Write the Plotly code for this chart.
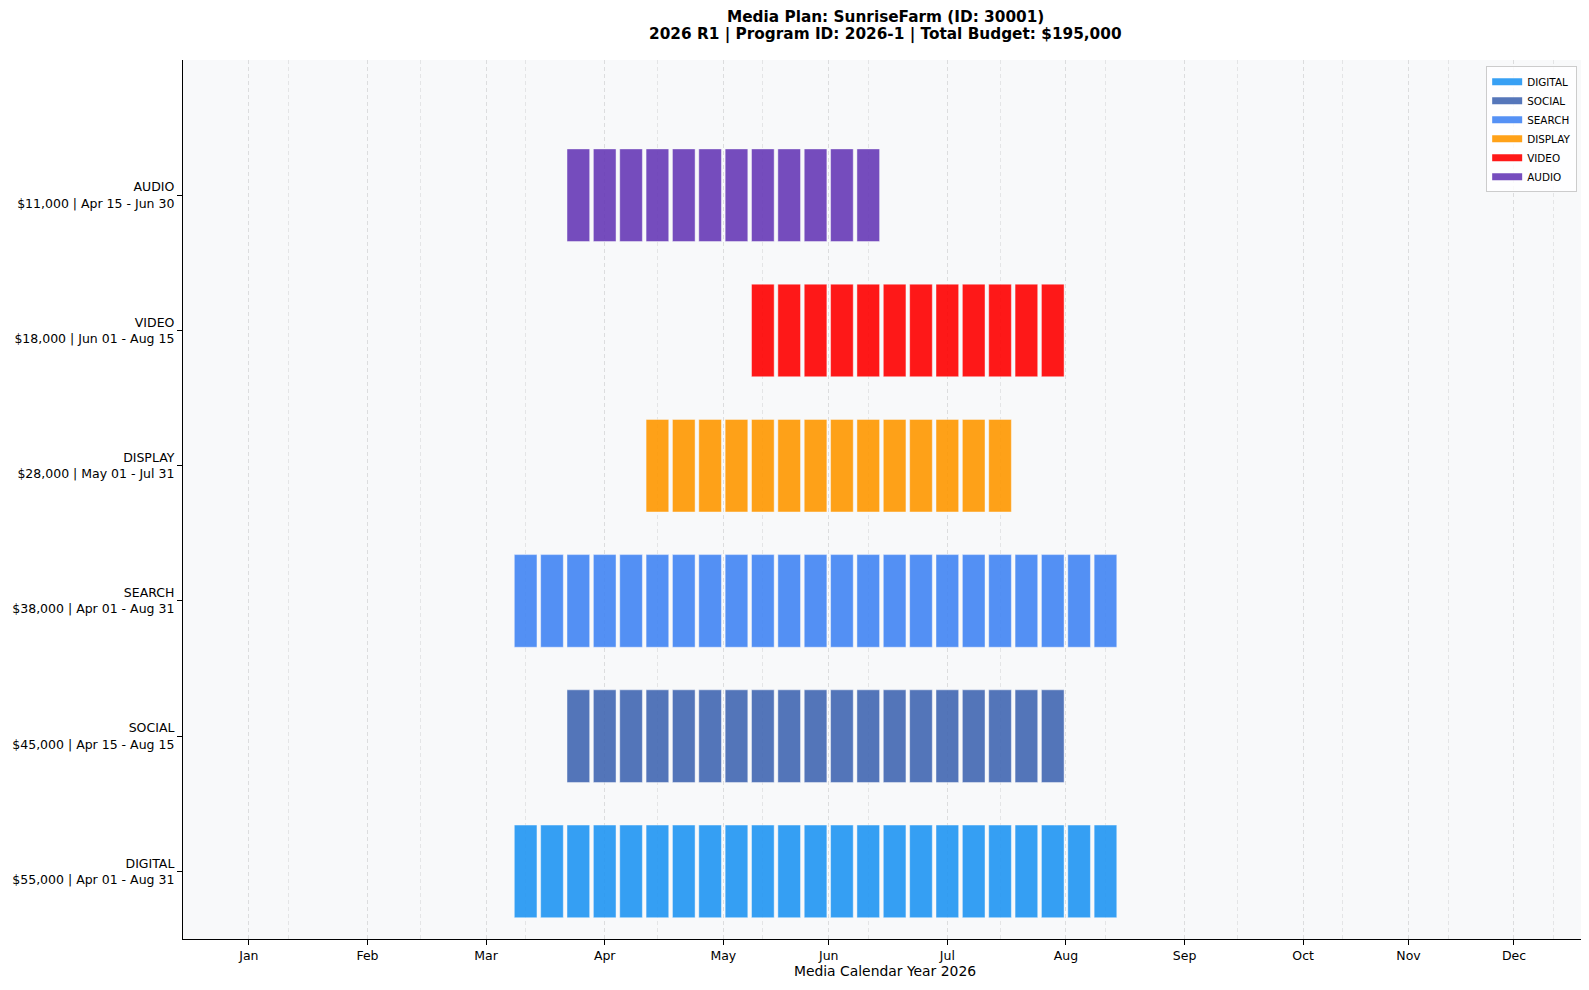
import plotly.graph_objects as go

# ---------------- data ----------------
channels = ["DIGITAL", "SOCIAL", "SEARCH", "DISPLAY", "VIDEO", "AUDIO"]
budgets = [55000, 45000, 38000, 28000, 18000, 11000]
date_ranges = ["Apr 01 - Aug 31", "Apr 15 - Aug 15", "Apr 01 - Aug 31",
               "May 01 - Jul 31", "Jun 01 - Aug 15", "Apr 15 - Jun 30"]
colors = ["#2196F3", "#4267B2", "#4285F4", "#FF9800", "#FF0000", "#673AB7"]

# active flight weeks (week index on the calendar axis)
weeks_digital = [13, 14, 15, 16, 17, 18, 19, 20, 21, 22, 23, 24, 25, 26, 27, 28, 29, 30, 31, 32, 33, 34, 35]
weeks_social = [15, 16, 17, 18, 19, 20, 21, 22, 23, 24, 25, 26, 27, 28, 29, 30, 31, 32, 33]
weeks_search = [13, 14, 15, 16, 17, 18, 19, 20, 21, 22, 23, 24, 25, 26, 27, 28, 29, 30, 31, 32, 33, 34, 35]
weeks_display = [18, 19, 20, 21, 22, 23, 24, 25, 26, 27, 28, 29, 30, 31]
weeks_video = [22, 23, 24, 25, 26, 27, 28, 29, 30, 31, 32, 33]
weeks_audio = [15, 16, 17, 18, 19, 20, 21, 22, 23, 24, 25, 26]
channel_weeks = [weeks_digital, weeks_social, weeks_search, weeks_display, weeks_video, weeks_audio]

month_labels = ["Jan", "Feb", "Mar", "Apr", "May", "Jun", "Jul", "Aug", "Sep", "Oct", "Nov", "Dec"]
month_ticks = [2.5, 7, 11.5, 16, 20.5, 24.5, 29, 33.5, 38, 42.5, 46.5, 50.5]
month_bounds = [4, 9, 13, 18, 22, 26, 31, 35, 40, 44, 48, 52]

title_line1 = "Media Plan: SunriseFarm (ID: 30001)"
title_line2 = "2026 R1 | Program ID: 2026-1 | Total Budget: $195,000"
x_title = "Media Calendar Year 2026"

# ---------------- figure ----------------
BAR_LEN = 0.86
BAR_H = 0.685
FONT = "DejaVu Sans"

fig = go.Figure()
for i, (ch, wk, col) in enumerate(zip(channels, channel_weeks, colors)):
    fig.add_trace(go.Bar(
        orientation="h",
        y=[i] * len(wk),
        x=[BAR_LEN] * len(wk),
        base=[w - BAR_LEN / 2 for w in wk],
        width=BAR_H,
        name=ch,
        legendgroup=ch,
        marker=dict(color=col, line=dict(color="rgba(255,255,255,0.55)", width=0.8)),
        opacity=0.9,
        showlegend=False,
    ))

# legend entries (wide colour patches, like the reference legend)
for ch, col in zip(channels, colors):
    fig.add_trace(go.Scatter(
        x=[None], y=[None], mode="lines", name=ch, legendgroup=ch,
        line=dict(color=col, width=7), opacity=0.9, showlegend=True,
        hoverinfo="skip",
    ))

tick_text = [f"{ch}<br>${b:,} | {dr}" for ch, b, dr in zip(channels, budgets, date_ranges)]

fig.update_layout(
    width=1589, height=990,
    margin=dict(l=175, r=10, t=52, b=59),
    paper_bgcolor="white",
    plot_bgcolor="#f8f9fa",
    barmode="overlay",
    font=dict(family=FONT, color="black", size=12.5),
    legend=dict(
        x=0.993, y=0.993, xanchor="right", yanchor="top",
        bgcolor="rgba(255,255,255,0.85)",
        bordercolor="#cccccc", borderwidth=1,
        font=dict(family=FONT, size=10.4, color="black"),
        traceorder="normal",
        itemwidth=30,
        tracegroupgap=0,
    ),
    showlegend=True,
    annotations=[
        dict(text=f"<b>{title_line1}</b>", x=0.5, xref="paper", xanchor="center",
             y=1.049, yref="paper", yanchor="middle", showarrow=False,
             font=dict(family=FONT, size=15.3, color="black")),
        dict(text=f"<b>{title_line2}</b>", x=0.5, xref="paper", xanchor="center",
             y=1.029, yref="paper", yanchor="middle", showarrow=False,
             font=dict(family=FONT, size=15.3, color="black")),
    ],
)

fig.update_xaxes(
    range=[0, 53.27],
    tickmode="array", tickvals=month_ticks, ticktext=month_labels,
    ticks="outside", ticklen=5, tickwidth=1, tickcolor="black",
    tickfont=dict(size=12.5, family=FONT),
    showline=True, linecolor="black", linewidth=1.2, mirror=False,
    showgrid=True, gridcolor="rgba(0,0,0,0.11)", gridwidth=1, griddash="4px,3px",
    minor=dict(tickmode="array", tickvals=month_bounds, showgrid=True,
               gridcolor="rgba(0,0,0,0.08)", gridwidth=1, ticklen=0),
    zeroline=False,
    title=dict(text=x_title, font=dict(size=13.9, family=FONT), standoff=2),
    automargin=False,
)

fig.update_yaxes(
    range=[-0.5, 6.0],
    tickmode="array", tickvals=list(range(len(channels))), ticktext=tick_text,
    ticks="outside", ticklen=5, tickwidth=1, tickcolor="black",
    tickfont=dict(size=12.5, family=FONT),
    showline=True, linecolor="black", linewidth=1.2, mirror=False,
    showgrid=False, zeroline=False,
    automargin=False,
)

fig.write_html("out.html")
